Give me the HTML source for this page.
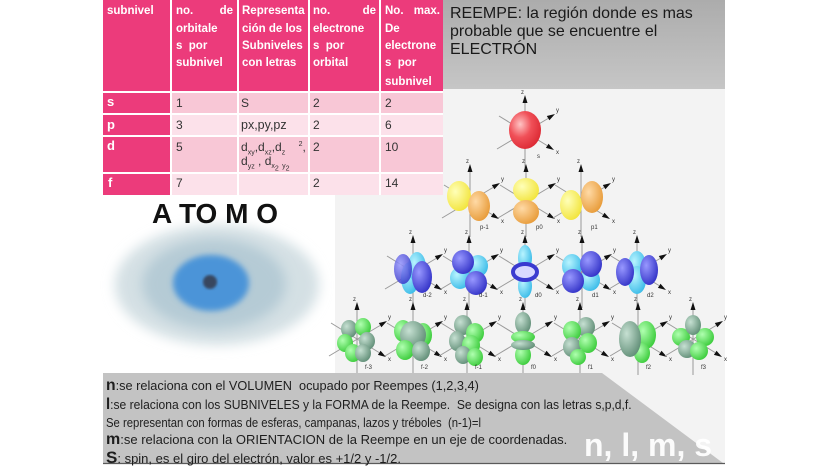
<!DOCTYPE html>
<html><head><meta charset="utf-8">
<style>
html,body{margin:0;padding:0;background:#fff;}
body{width:828px;height:466px;position:relative;overflow:hidden;font-family:"Liberation Sans",sans-serif;}
.c{position:absolute;}
.pk{background:#ec3b7b;}
.l1{background:#f8c7d6;}
.l2{background:#fce1ea;}
.h{position:absolute;color:#fff;font-weight:bold;font-size:11.5px;line-height:14px;white-space:nowrap;}
.hs{display:flex;justify-content:space-between;}
.b{position:absolute;color:#333;font-size:12px;line-height:14px;white-space:nowrap;}
.f{position:absolute;color:#fff;font-weight:bold;font-size:13px;line-height:14px;}
.t{position:absolute;left:106px;font-size:13px;color:#1e1e1e;white-space:nowrap;line-height:18px;transform-origin:0 50%;}
.k{font-weight:bold;font-size:16px;}
sub,sup{font-size:7px;line-height:0;}
</style></head><body>

<svg class="c" style="left:0;top:0" width="828" height="466" viewBox="0 0 828 466">
<defs>
<radialGradient id="gr" cx="35%" cy="35%" r="70%"><stop offset="0" stop-color="#ffc4c4"/><stop offset=".5" stop-color="#f05058"/><stop offset="1" stop-color="#dc2a34"/></radialGradient>
<radialGradient id="gy" cx="35%" cy="35%" r="70%"><stop offset="0" stop-color="#ffffb8"/><stop offset="1" stop-color="#f2e43c"/></radialGradient>
<radialGradient id="go" cx="35%" cy="35%" r="70%"><stop offset="0" stop-color="#ffdaa6"/><stop offset="1" stop-color="#e89c3a"/></radialGradient>
<radialGradient id="gb" cx="35%" cy="35%" r="70%"><stop offset="0" stop-color="#9898ff"/><stop offset="1" stop-color="#3434c8"/></radialGradient>
<radialGradient id="gc" cx="35%" cy="35%" r="70%"><stop offset="0" stop-color="#b8f4ff"/><stop offset="1" stop-color="#3cbce8"/></radialGradient>
<radialGradient id="gg" cx="35%" cy="35%" r="70%"><stop offset="0" stop-color="#b0ffb0"/><stop offset="1" stop-color="#3ccc3c"/></radialGradient>
<radialGradient id="gd" cx="35%" cy="35%" r="70%"><stop offset="0" stop-color="#c6e0d2"/><stop offset="1" stop-color="#628f78"/></radialGradient>
<filter id="bl6" x="-30%" y="-30%" width="160%" height="160%"><feGaussianBlur stdDeviation="6"/></filter>
<filter id="bl3" x="-30%" y="-30%" width="160%" height="160%"><feGaussianBlur stdDeviation="3"/></filter>
<filter id="bl1"><feGaussianBlur stdDeviation="1.2"/></filter>
<g id="ax">
 <line x1="0" y1="36" x2="0" y2="-30" stroke="#9a9a9a" stroke-width="1"/>
 <polygon points="0,-37 -2.5,-29 2.5,-29" fill="#111"/>
 <line x1="-28" y1="17" x2="23" y2="-13.5" stroke="#9a9a9a" stroke-width="1"/>
 <polygon points="30,-18 21.8,-16 24.4,-11.8" fill="#111"/>
 <line x1="-26" y1="-16" x2="22" y2="13.5" stroke="#9a9a9a" stroke-width="1"/>
 <polygon points="29,18 20.9,15.9 23.5,11.7" fill="#111"/>
 <text x="-4" y="-38" font-size="6" fill="#333" font-family="Liberation Sans">z</text>
 <text x="31" y="-20" font-size="6" fill="#333" font-family="Liberation Sans">y</text>
 <text x="31" y="22" font-size="6" fill="#333" font-family="Liberation Sans">x</text>
</g>
</defs>

<path d="M443,89 H725 V463 H335 V195 H443 Z" fill="#f3f3f3"/>

<ellipse cx="217" cy="285" rx="102" ry="60" fill="#d4e0e4" filter="url(#bl6)"/>
<ellipse cx="214" cy="284" rx="72" ry="45" fill="#b5cbd5" filter="url(#bl6)"/>
<ellipse cx="211" cy="283" rx="38" ry="28" fill="#4b94d8" filter="url(#bl3)"/>
<circle cx="210" cy="282" r="7" fill="#39465e" filter="url(#bl1)"/>

<use href="#ax" x="525" y="132"/>
<ellipse cx="525" cy="130" rx="16" ry="19" fill="url(#gr)"/>
<text x="537" y="158" font-size="6" fill="#333" font-family="Liberation Sans">s</text>

<g transform="translate(470,201)"><use href="#ax"/>
<ellipse cx="-11" cy="-5" rx="12" ry="15" fill="url(#gy)"/><ellipse cx="9" cy="5" rx="11" ry="15" fill="url(#go)"/>
<text x="10" y="28" font-size="6" fill="#333" font-family="Liberation Sans">p-1</text></g>
<g transform="translate(526,201)"><use href="#ax"/>
<ellipse cx="0" cy="-11" rx="13" ry="12" fill="url(#gy)"/><ellipse cx="0" cy="11" rx="13" ry="12" fill="url(#go)"/>
<text x="10" y="28" font-size="6" fill="#333" font-family="Liberation Sans">p0</text></g>
<g transform="translate(581,201)"><use href="#ax"/>
<ellipse cx="-10" cy="4" rx="11" ry="15" fill="url(#gy)"/><ellipse cx="11" cy="-4" rx="11" ry="16" fill="url(#go)"/>
<text x="10" y="28" font-size="6" fill="#333" font-family="Liberation Sans">p1</text></g>

<g transform="translate(413,272)"><use href="#ax"/>
<ellipse cx="-3" cy="6" rx="9" ry="16" fill="url(#gc)"/><ellipse cx="4" cy="-5" rx="9" ry="15" fill="url(#gc)"/>
<ellipse cx="-10" cy="-3" rx="9" ry="15" fill="url(#gb)" opacity=".85"/><ellipse cx="9" cy="5" rx="10" ry="16" fill="url(#gb)"/>
<text x="10" y="25" font-size="6" fill="#333" font-family="Liberation Sans">d-2</text></g>
<g transform="translate(469,272)"><use href="#ax"/>
<ellipse cx="9" cy="-6" rx="10" ry="11" fill="url(#gc)"/><ellipse cx="-9" cy="6" rx="10" ry="11" fill="url(#gc)"/>
<ellipse cx="-6" cy="-10" rx="11" ry="12" fill="url(#gb)"/><ellipse cx="7" cy="11" rx="11" ry="12" fill="url(#gb)"/>
<text x="10" y="25" font-size="6" fill="#333" font-family="Liberation Sans">d-1</text></g>
<g transform="translate(525,272)"><use href="#ax"/>
<ellipse cx="0" cy="-14" rx="7" ry="13" fill="url(#gc)"/><ellipse cx="0" cy="14" rx="7" ry="12" fill="url(#gc)"/>
<ellipse cx="0" cy="0" rx="12" ry="8" fill="#d8d8ff" stroke="#3a3ad0" stroke-width="4"/>
<text x="10" y="25" font-size="6" fill="#333" font-family="Liberation Sans">d0</text></g>
<g transform="translate(582,272)"><use href="#ax"/>
<ellipse cx="-10" cy="-6" rx="10" ry="12" fill="url(#gc)"/><ellipse cx="8" cy="8" rx="10" ry="11" fill="url(#gc)"/>
<ellipse cx="9" cy="-8" rx="11" ry="13" fill="url(#gb)"/><ellipse cx="-9" cy="9" rx="11" ry="12" fill="url(#gb)"/>
<text x="10" y="25" font-size="6" fill="#333" font-family="Liberation Sans">d1</text></g>
<g transform="translate(637,272)"><use href="#ax"/>
<ellipse cx="0" cy="-6" rx="9" ry="15" fill="url(#gc)"/><ellipse cx="0" cy="8" rx="9" ry="14" fill="url(#gc)"/>
<ellipse cx="-12" cy="0" rx="9" ry="14" fill="url(#gb)"/><ellipse cx="12" cy="-2" rx="9" ry="15" fill="url(#gb)"/>
<text x="10" y="25" font-size="6" fill="#333" font-family="Liberation Sans">d2</text></g>

<g transform="translate(357,339)"><use href="#ax"/>
<ellipse cx="-8" cy="-10" rx="8" ry="9" fill="url(#gd)"/><ellipse cx="6" cy="-12" rx="8" ry="9" fill="url(#gg)"/>
<ellipse cx="-12" cy="4" rx="8" ry="9" fill="url(#gg)"/><ellipse cx="10" cy="2" rx="8" ry="9" fill="url(#gd)"/>
<ellipse cx="-4" cy="14" rx="8" ry="9" fill="url(#gg)"/><ellipse cx="6" cy="14" rx="8" ry="9" fill="url(#gd)"/>
<text x="8" y="30" font-size="6" fill="#333" font-family="Liberation Sans">f-3</text></g>
<g transform="translate(413,339)"><use href="#ax"/>
<ellipse cx="-10" cy="-8" rx="9" ry="11" fill="url(#gg)"/><ellipse cx="10" cy="-4" rx="9" ry="12" fill="url(#gg)"/>
<ellipse cx="0" cy="-4" rx="13" ry="14" fill="url(#gd)"/>
<ellipse cx="-8" cy="11" rx="9" ry="10" fill="url(#gg)"/><ellipse cx="8" cy="12" rx="9" ry="10" fill="url(#gd)"/>
<text x="8" y="30" font-size="6" fill="#333" font-family="Liberation Sans">f-2</text></g>
<g transform="translate(467,339)"><use href="#ax"/>
<ellipse cx="-4" cy="-14" rx="9" ry="10" fill="url(#gd)"/><ellipse cx="8" cy="-6" rx="9" ry="10" fill="url(#gg)"/>
<ellipse cx="-10" cy="2" rx="8" ry="10" fill="url(#gd)"/><ellipse cx="4" cy="6" rx="9" ry="10" fill="url(#gg)"/>
<ellipse cx="-4" cy="16" rx="8" ry="9" fill="url(#gd)"/><ellipse cx="8" cy="18" rx="8" ry="9" fill="url(#gg)"/>
<text x="8" y="30" font-size="6" fill="#333" font-family="Liberation Sans">f-1</text></g>
<g transform="translate(523,339)"><use href="#ax"/>
<ellipse cx="0" cy="-16" rx="8" ry="11" fill="url(#gd)"/><ellipse cx="0" cy="16" rx="8" ry="10" fill="url(#gg)"/>
<ellipse cx="0" cy="-2" rx="12" ry="6" fill="url(#gg)"/><ellipse cx="0" cy="6" rx="12" ry="5" fill="url(#gd)"/>
<text x="8" y="30" font-size="6" fill="#333" font-family="Liberation Sans">f0</text></g>
<g transform="translate(580,339)"><use href="#ax"/>
<ellipse cx="6" cy="-12" rx="9" ry="10" fill="url(#gd)"/><ellipse cx="-8" cy="-8" rx="9" ry="10" fill="url(#gg)"/>
<ellipse cx="-8" cy="8" rx="9" ry="10" fill="url(#gd)"/><ellipse cx="8" cy="4" rx="9" ry="10" fill="url(#gg)"/>
<ellipse cx="-2" cy="18" rx="8" ry="8" fill="url(#gg)"/>
<text x="8" y="30" font-size="6" fill="#333" font-family="Liberation Sans">f1</text></g>
<g transform="translate(638,339)"><use href="#ax"/>
<ellipse cx="8" cy="-4" rx="10" ry="14" fill="url(#gg)"/><ellipse cx="4" cy="14" rx="8" ry="10" fill="url(#gg)"/>
<ellipse cx="-8" cy="0" rx="11" ry="18" fill="url(#gd)"/>
<text x="8" y="30" font-size="6" fill="#333" font-family="Liberation Sans">f2</text></g>
<g transform="translate(693,339)"><use href="#ax"/>
<ellipse cx="-12" cy="-2" rx="9" ry="9" fill="url(#gg)"/><ellipse cx="12" cy="-2" rx="9" ry="9" fill="url(#gg)"/>
<ellipse cx="0" cy="-14" rx="8" ry="10" fill="url(#gd)"/>
<ellipse cx="-6" cy="10" rx="9" ry="9" fill="url(#gd)"/><ellipse cx="6" cy="12" rx="9" ry="9" fill="url(#gg)"/>
<text x="8" y="30" font-size="6" fill="#333" font-family="Liberation Sans">f3</text></g>

<polygon points="103,373 602,373 723,463 103,463" fill="#c3c3c3"/>
<line x1="103" y1="463.5" x2="725" y2="463.5" stroke="#5a5a5a" stroke-width="1.2"/>
</svg>

<div class="c pk" style="left:103px;top:0;width:67px;height:91px"></div>
<div class="c pk" style="left:172px;top:0;width:65px;height:91px"></div>
<div class="c pk" style="left:239px;top:0;width:69px;height:91px"></div>
<div class="c pk" style="left:310px;top:0;width:69px;height:91px"></div>
<div class="c pk" style="left:381px;top:0;width:62px;height:91px"></div>

<div class="c pk" style="left:103px;top:93px;width:67px;height:20px"></div>
<div class="c l1" style="left:172px;top:93px;width:271px;height:20px"></div>
<div class="c pk" style="left:103px;top:115px;width:67px;height:20px"></div>
<div class="c l2" style="left:172px;top:115px;width:271px;height:20px"></div>
<div class="c pk" style="left:103px;top:137px;width:67px;height:35px"></div>
<div class="c l1" style="left:172px;top:137px;width:271px;height:35px"></div>
<div class="c pk" style="left:103px;top:174px;width:67px;height:21px"></div>
<div class="c l2" style="left:172px;top:174px;width:271px;height:21px"></div>
<div class="c" style="left:237px;top:93px;width:2px;height:102px;background:#fff"></div>
<div class="c" style="left:308px;top:93px;width:2px;height:102px;background:#fff"></div>
<div class="c" style="left:379px;top:93px;width:2px;height:102px;background:#fff"></div>

<div class="h" style="left:107px;top:4px">subnivel</div>

<div class="h hs" style="left:176px;top:4px;width:57px"><span>no.</span><span>de</span></div>
<div class="h" style="left:176px;top:22px">orbitale</div>
<div class="h" style="left:176px;top:39px">s&nbsp;&nbsp;por</div>
<div class="h" style="left:176px;top:56px">subnivel</div>

<div class="h" style="left:242px;top:4px">Representa</div>
<div class="h" style="left:242px;top:22px">ción de los</div>
<div class="h" style="left:242px;top:39px">Subniveles</div>
<div class="h" style="left:242px;top:56px">con letras</div>

<div class="h hs" style="left:313px;top:4px;width:63px"><span>no.</span><span>de</span></div>
<div class="h" style="left:313px;top:22px">electrone</div>
<div class="h" style="left:313px;top:39px">s&nbsp;&nbsp;por</div>
<div class="h" style="left:313px;top:56px">orbital</div>

<div class="h hs" style="left:385px;top:4px;width:55px"><span>No.</span><span>max.</span></div>
<div class="h" style="left:385px;top:22px">De</div>
<div class="h" style="left:385px;top:39px">electrone</div>
<div class="h" style="left:385px;top:56px">s&nbsp;&nbsp;por</div>
<div class="h" style="left:385px;top:75px">subnivel</div>

<div class="f" style="left:107px;top:95px">s</div>
<div class="f" style="left:107px;top:118px">p</div>
<div class="f" style="left:107px;top:139px">d</div>
<div class="f" style="left:108px;top:176px">f</div>

<div class="b" style="left:176px;top:96px">1</div>
<div class="b" style="left:241px;top:96px">S</div>
<div class="b" style="left:313px;top:96px">2</div>
<div class="b" style="left:385px;top:96px">2</div>

<div class="b" style="left:176px;top:118px">3</div>
<div class="b" style="left:241px;top:118px;font-size:12.5px">px,py,pz</div>
<div class="b" style="left:313px;top:118px">2</div>
<div class="b" style="left:385px;top:118px">6</div>

<div class="b" style="left:176px;top:140px">5</div>
<div class="b" style="left:241px;top:140px">d<sub>xy</sub>,d<sub>xz</sub>,d<sub>z</sub>&nbsp;&nbsp;&nbsp;&nbsp;<sup>2</sup>,</div>
<div class="b" style="left:241px;top:154px">d<sub>yz</sub> , d<sub>x<sub>2</sub></sub> <sub>y<sub>2</sub></sub></div>
<div class="b" style="left:313px;top:140px">2</div>
<div class="b" style="left:385px;top:140px">10</div>

<div class="b" style="left:176px;top:176px">7</div>
<div class="b" style="left:313px;top:176px">2</div>
<div class="b" style="left:385px;top:176px">14</div>

<div class="c" style="left:443px;top:0;width:282px;height:89px;background:linear-gradient(#acacac,#c6c6c6)"></div>
<div class="c" style="left:450px;top:5px;font-size:16px;line-height:18px;color:#1a1a1a;white-space:nowrap">REEMPE: la región donde es mas<br>probable que se encuentre el<br>ELECTRÓN</div>

<div class="c" style="left:152px;top:198px;font-size:28px;font-weight:bold;color:#111;line-height:32px;white-space:nowrap">A TO M O</div>

<div class="t" style="top:377px;transform:scaleX(.98)"><span class="k">n</span>:se relaciona con el VOLUMEN&nbsp; ocupado por Reempes (1,2,3,4)</div>
<div class="t" style="top:396px;transform:scaleX(.93)"><span class="k">l</span>:se relaciona con los SUBNIVELES y la FORMA de la Reempe.&nbsp; Se designa con las letras s,p,d,f.</div>
<div class="t" style="top:414px;transform:scaleX(.87)">Se representan con formas de esferas, campanas, lazos y tréboles&nbsp; (n-1)=l</div>
<div class="t" style="top:431px;transform:scaleX(1)"><span class="k">m</span>:se relaciona con la ORIENTACION de la Reempe en un eje de coordenadas.</div>
<div class="t" style="top:449px;transform:scaleX(1)"><span class="k" style="font-size:17px">S</span>: spin, es el giro del electrón, valor es +1/2 y -1/2.</div>

<div class="c" style="left:584px;top:429px;font-size:32px;font-weight:bold;line-height:32px;color:rgba(255,255,255,.93);white-space:nowrap">n, l, m, s</div>

</body></html>
